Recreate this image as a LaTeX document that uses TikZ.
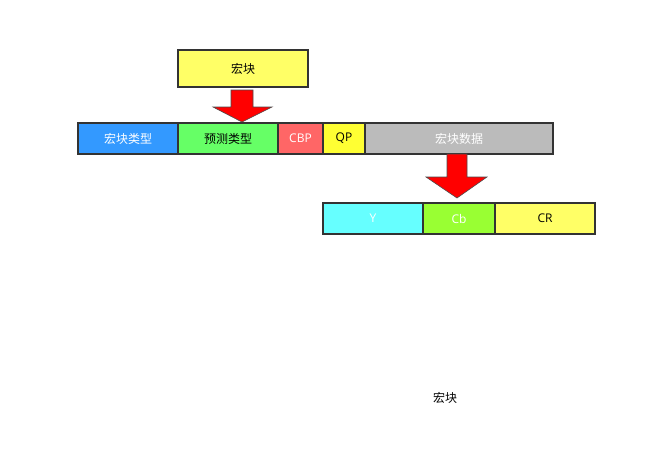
\documentclass[tikz,border=0pt]{standalone}
\usepackage{fontspec}
\setmainfont{Open Sans}
\newfontfamily\cjk{Noto Sans CJK SC}
\begin{document}
\begin{tikzpicture}[x=1pt,y=-1pt,
  cell/.style={draw=black!80,line width=1.3pt,inner sep=0pt,outer sep=0pt,font=\fontsize{12}{14}\selectfont},
  bigarrow/.style={fill=red,draw=black!70,line width=0.6pt}]
\useasboundingbox (0,0) rectangle (661,450);
\fill[white] (0,0) rectangle (661,450);
\definecolor{cblue}{HTML}{3399FF}
\definecolor{cgreen}{HTML}{66FF66}
\definecolor{cred}{HTML}{FF6666}
\definecolor{cyel}{HTML}{FFFF33}
\definecolor{cyel2}{HTML}{FFFF66}
\definecolor{cgray}{HTML}{BBBBBB}
\definecolor{ccyan}{HTML}{66FFFF}
\definecolor{clime}{HTML}{99FF33}
% top box
\node[cell,fill=cyel2,minimum width=130pt,minimum height=37pt] (mb) at (243,68.5) {\cjk 宏块};
% arrow 1
\draw[bigarrow] (231,90) -- (253,90) -- (253,107) -- (272,107) -- (242,122) -- (213,107) -- (231,107) -- cycle;
% row 1
\node[cell,fill=cblue,text=white,minimum width=100pt,minimum height=31pt] (mbt) at (128,138.5) {\cjk 宏块类型};
\node[cell,fill=cgreen,minimum width=100pt,minimum height=31pt] (pt) at (228,138.5) {\cjk 预测类型};
\node[cell,fill=cred,text=white,minimum width=45pt,minimum height=31pt] (cbp) at (300.5,138.5) {CBP};
\node[cell,fill=cyel,minimum width=42pt,minimum height=31pt] (qp) at (344,138.5) {QP};
\node[cell,fill=cgray,text=white,minimum width=188pt,minimum height=31pt] (data) at (459,138.5) {\cjk 宏块数据};
% arrow 2
\draw[bigarrow] (447,154) -- (467,154) -- (467,177) -- (487,177) -- (457,198) -- (426,177) -- (447,177) -- cycle;
% row 2
\node[cell,fill=ccyan,text=white,minimum width=100pt,minimum height=31pt] (y) at (373,218.5) {Y};
\node[cell,fill=clime,text=white,minimum width=72pt,minimum height=31pt] (cb) at (459,218.5) {Cb};
\node[cell,fill=cyel2,minimum width=100pt,minimum height=31pt] (cr) at (545,218.5) {CR};
% bottom label
\node[font=\fontsize{12}{14}\selectfont] (lbl) at (445,398) {\cjk 宏块};
\end{tikzpicture}
\end{document}
